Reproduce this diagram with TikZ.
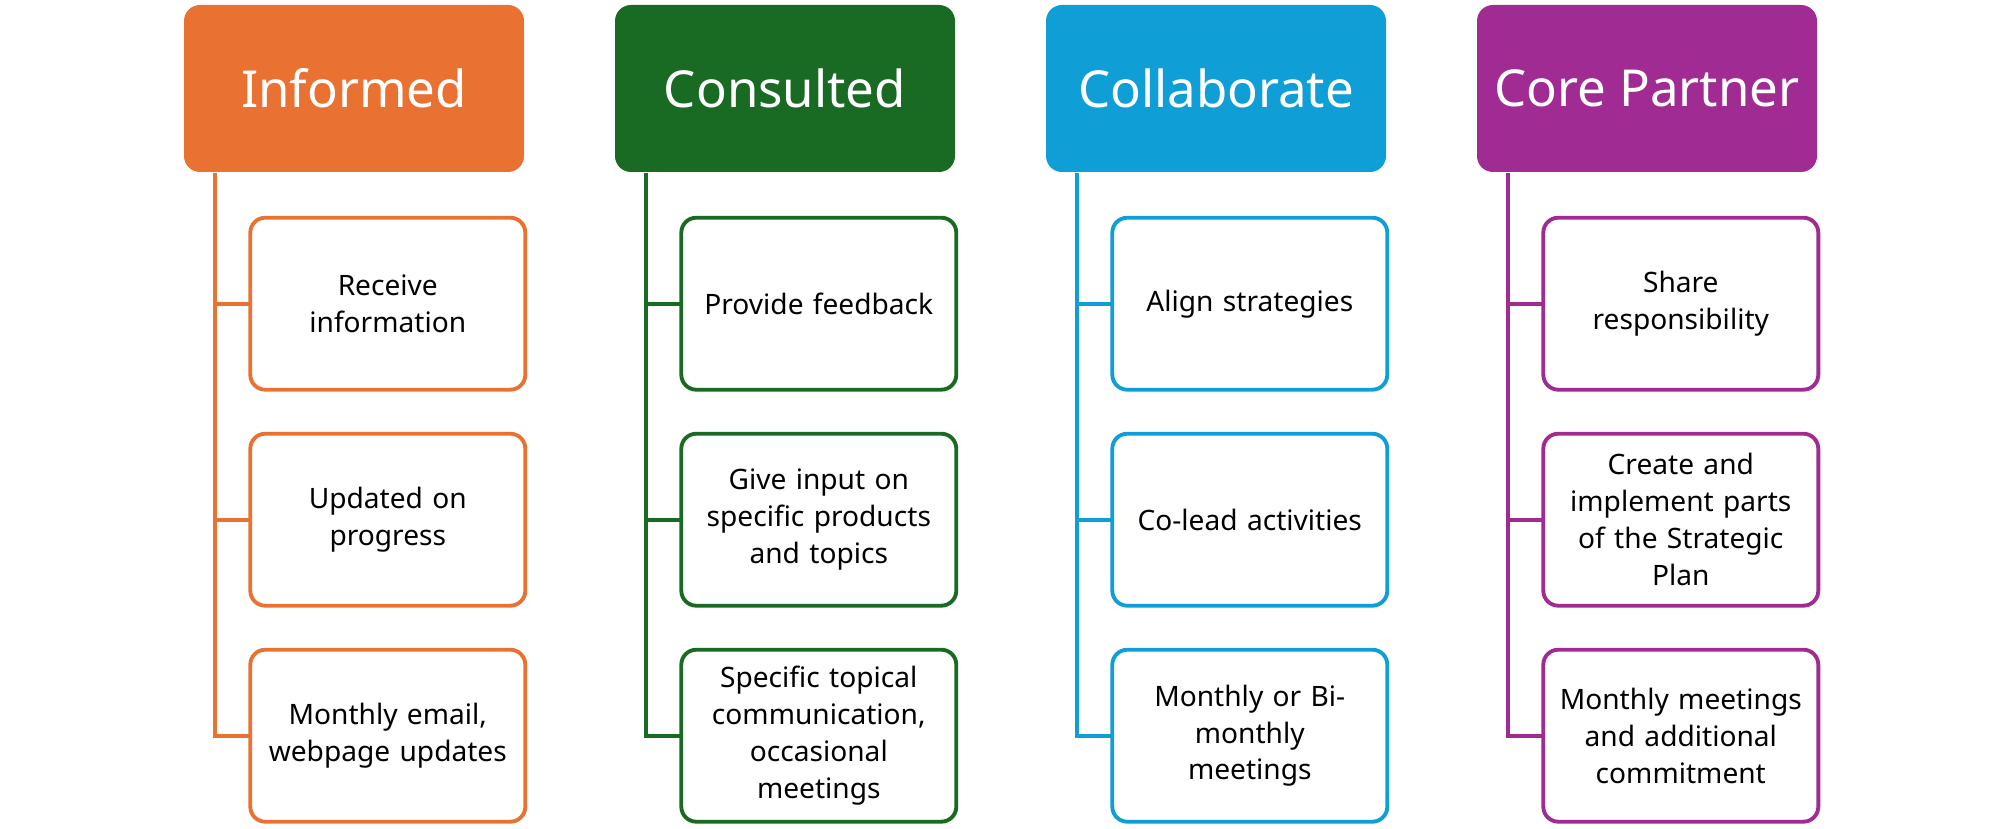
\documentclass[tikz,border=0pt]{standalone}
\usepackage{fontspec}
\setmainfont{Noto Sans}
\usetikzlibrary{positioning}
\definecolor{informed}{HTML}{E97132}
\definecolor{consulted}{HTML}{196B24}
\definecolor{collab}{HTML}{0F9ED5}
\definecolor{corepart}{HTML}{A02B93}
\begin{document}
\begin{tikzpicture}[
  head/.style={rounded corners=0.16cm, minimum width=3.4cm, minimum height=1.67cm,
    text=white, font=\fontsize{14.5}{17}\selectfont},
  item/.style={draw, line width=1.1pt, rounded corners=0.15cm, text width=2.55cm,
    inner xsep=0.1cm, minimum height=1.72cm, outer sep=0pt, align=center,
    font=\fontsize{8}{10.5}\selectfont},
  trunk/.style={line width=1.1pt}
]
\useasboundingbox (0,0) rectangle (20,8.28);
%\draw[step=1cm,gray,very thin] (0,0) grid (20,8);

% headers
\node[head, fill=informed] (inf) at (3.54,7.395) {Informed};
\node[head, fill=consulted] (con) at (7.85,7.395) {Consulted};
\node[head, fill=collab] (col) at (12.16,7.395) {Collaborate};
\node[head, fill=corepart] (cor) at (16.47,7.395) {Core Partner};

% informed
\node[item, draw=informed, below right=0.45cm and 0.67cm of inf.south west] (inf1) {Receive\\information};
\node[item, draw=informed, below=0.44cm of inf1] (inf2) {Updated on\\progress};
\node[item, draw=informed, below=0.44cm of inf2] (inf3) {Monthly email,\\webpage updates};
\coordinate (tinf) at ([xshift=0.32cm]inf.south west);
\draw[trunk, informed] (tinf) |- (inf1.west);
\draw[trunk, informed] (tinf) |- (inf2.west);
\draw[trunk, informed] (tinf) |- (inf3.west);

% consulted
\node[item, draw=consulted, below right=0.45cm and 0.67cm of con.south west] (con1) {Provide feedback};
\node[item, draw=consulted, below=0.44cm of con1] (con2) {Give input on\\specific products\\and topics};
\node[item, draw=consulted, below=0.44cm of con2] (con3) {Specific topical\\communication,\\occasional\\meetings};
\coordinate (tcon) at ([xshift=0.32cm]con.south west);
\draw[trunk, consulted] (tcon) |- (con1.west);
\draw[trunk, consulted] (tcon) |- (con2.west);
\draw[trunk, consulted] (tcon) |- (con3.west);

% collaborate
\node[item, draw=collab, below right=0.45cm and 0.67cm of col.south west] (col1) {Align strategies};
\node[item, draw=collab, below=0.44cm of col1] (col2) {Co-lead activities};
\node[item, draw=collab, below=0.44cm of col2] (col3) {Monthly or Bi-\\monthly\\meetings};
\coordinate (tcol) at ([xshift=0.32cm]col.south west);
\draw[trunk, collab] (tcol) |- (col1.west);
\draw[trunk, collab] (tcol) |- (col2.west);
\draw[trunk, collab] (tcol) |- (col3.west);

% core partner
\node[item, draw=corepart, below right=0.45cm and 0.67cm of cor.south west] (cor1) {Share\\responsibility};
\node[item, draw=corepart, below=0.44cm of cor1] (cor2) {Create and\\implement parts\\of the Strategic\\Plan};
\node[item, draw=corepart, below=0.44cm of cor2] (cor3) {Monthly meetings\\and additional\\commitment};
\coordinate (tcor) at ([xshift=0.32cm]cor.south west);
\draw[trunk, corepart] (tcor) |- (cor1.west);
\draw[trunk, corepart] (tcor) |- (cor2.west);
\draw[trunk, corepart] (tcor) |- (cor3.west);
\end{tikzpicture}
\end{document}
